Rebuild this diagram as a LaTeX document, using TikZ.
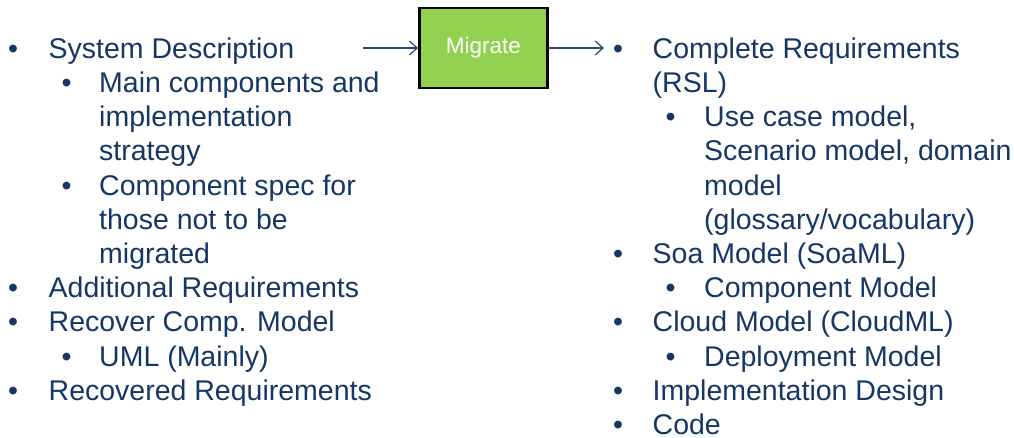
\documentclass[tikz,border=0pt]{standalone}
\usepackage{fontspec}
\setmainfont{Liberation Sans}
\usetikzlibrary{arrows.meta}
\definecolor{navy}{RGB}{20,55,100}
\definecolor{arrowblue}{RGB}{40,75,120}
\definecolor{migrategreen}{HTML}{92D050}
\newcommand\stacklines[1]{\vtop{\baselineskip=34.2pt\lineskiplimit=-100pt\def\\{\par}\hsize=400pt\parindent=0pt\leftskip=0pt\rightskip=0pt plus 1fil\noindent #1}}
\begin{document}
\begin{tikzpicture}[x=1pt,y=-1pt,
  item/.style={anchor=base west,inner sep=0pt,text=navy,
    font=\fontsize{28.5}{34.2}\selectfont},
  bul/.style={anchor=base,inner sep=0pt,text=navy,font=\fontsize{28.5}{34.2}\selectfont},
  procbox/.style={draw=black,line width=2.6pt,fill=migrategreen,minimum width=128pt,
    minimum height=80pt,inner sep=0pt,text=white,font=\fontsize{22.5}{26}\selectfont},
  flow/.style={draw=arrowblue,line width=1.2pt,-{Straight Barb[length=8pt,width=14pt,line width=1.2pt]}}
]
\useasboundingbox (0,0) rectangle (1014,437);
\def\L#1{58.2+#1*34.2}
% left column
\node[bul] (lb1) at (13,{\L{0}}) {•};
\node[item] (l1) at (48.5,{\L{0}}) {System Description};
\node[bul] (lb2) at (66.5,{\L{1}}) {•};
\node[item] (l2) at (99,{\L{1}}) {\stacklines{Main components and\\implementation\\strategy}};
\node[bul] (lb3) at (66.5,{\L{4}}) {•};
\node[item] (l3) at (99,{\L{4}}) {\stacklines{Component spec for\\those not to be\\migrated}};
\node[bul] (lb4) at (13,{\L{7}}) {•};
\node[item] (l4) at (48.5,{\L{7}}) {Additional Requirements};
\node[bul] (lb5) at (13,{\L{8}}) {•};
\node[item] (l5) at (48.5,{\L{8}}) {Recover Comp. Model};
\node[bul] (lb6) at (66.5,{\L{9}}) {•};
\node[item] (l6) at (99,{\L{9}}) {UML (Mainly)};
\node[bul] (lb7) at (13,{\L{10}}) {•};
\node[item] (l7) at (48.5,{\L{10}}) {Recovered Requirements};
% right column
\node[bul] (rb1) at (618,{\L{0}}) {•};
\node[item] (r1) at (652.5,{\L{0}}) {\stacklines{Complete Requirements\\(RSL)}};
\node[bul] (rb2) at (670.5,{\L{2}}) {•};
\node[item] (r2) at (704,{\L{2}}) {\stacklines{Use case model,\\Scenario model, domain\\model\\(glossary/vocabulary)}};
\node[bul] (rb3) at (618,{\L{6}}) {•};
\node[item] (r3) at (652.5,{\L{6}}) {Soa Model (SoaML)};
\node[bul] (rb4) at (670.5,{\L{7}}) {•};
\node[item] (r4) at (704,{\L{7}}) {Component Model};
\node[bul] (rb5) at (618,{\L{8}}) {•};
\node[item] (r5) at (652.5,{\L{8}}) {Cloud Model (CloudML)};
\node[bul] (rb6) at (670.5,{\L{9}}) {•};
\node[item] (r6) at (704,{\L{9}}) {Deployment Model};
\node[bul] (rb7) at (618,{\L{10}}) {•};
\node[item] (r7) at (652.5,{\L{10}}) {Implementation Design};
\node[bul] (rb8) at (618,{\L{11}}) {•};
\node[item] (r8) at (652.5,{\L{11}}) {Code};
% process box
\node[procbox] (mig) at (483.5,48) {Migrate};
\coordinate (src) at (363,48);
\coordinate (dst) at (604,48);
\draw[flow] (src) -- (mig.west);
\draw[flow] (mig.east) -- (dst);
\end{tikzpicture}
\end{document}
